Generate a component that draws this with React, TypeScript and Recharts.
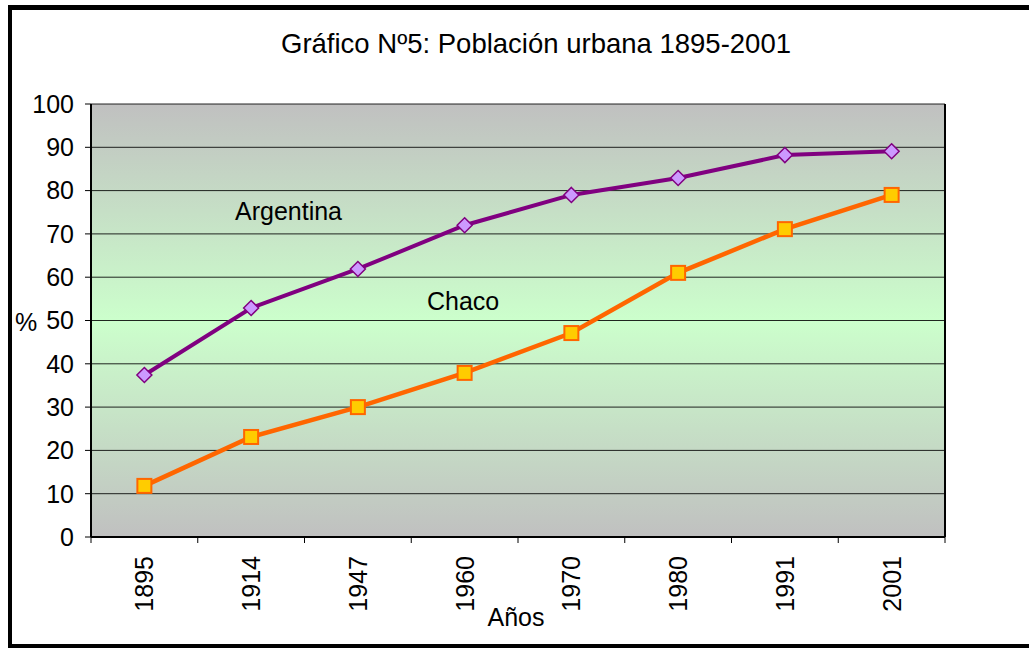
import { LineChart, Line, XAxis, YAxis, CartesianGrid } from "recharts";

const years = ["1895", "1914", "1947", "1960", "1970", "1980", "1991", "2001"];
const argentina = [37.4, 52.9, 61.9, 72, 79, 82.9, 88.2, 89.1];
const chaco = [11.8, 23.1, 30, 37.9, 47.1, 61, 71.1, 79];
const yTicks = [0, 10, 20, 30, 40, 50, 60, 70, 80, 90, 100];

const data = years.map((year, i) => ({
  year,
  argentina: argentina[i],
  chaco: chaco[i],
}));

const FONT = "'Liberation Sans', Arial, sans-serif";
const PLOT_W = 854;
const BAND = PLOT_W / years.length;

// tick label in the middle of each category, tick mark on the category edges
const XTick = (props: any) => {
  const { x, y, payload, index } = props;
  const half = BAND / 2;
  return (
    <g>
      <line x1={x - half} y1={y} x2={x - half} y2={y + 6} stroke="#000" />
      {index === years.length - 1 && (
        <line x1={x + half} y1={y} x2={x + half} y2={y + 6} stroke="#000" />
      )}
      <text
        x={0}
        y={0}
        transform={`translate(${x + 9},${y + 19}) rotate(-90)`}
        textAnchor="end"
        fontSize={25}
        fontFamily={FONT}
        fill="#000"
      >
        {payload.value}
      </text>
    </g>
  );
};

const Diamond = (props: any) => {
  const { cx, cy, index } = props;
  return (
    <polygon
      key={`a${index}`}
      points={`${cx},${cy - 7.5} ${cx + 7.5},${cy} ${cx},${cy + 7.5} ${cx - 7.5},${cy}`}
      fill="#cc99ff"
      stroke="#800080"
      strokeWidth={1.5}
    />
  );
};

const Square = (props: any) => {
  const { cx, cy, index } = props;
  return (
    <rect
      key={`c${index}`}
      x={cx - 7}
      y={cy - 7}
      width={14}
      height={14}
      fill="#ffcc00"
      stroke="#ff6600"
      strokeWidth={2}
    />
  );
};

export default function App() {
  return (
    <div style={{ position: "absolute", left: 0, top: 0, width: 1029, height: 648, background: "#fff" }}>
      <div
        style={{
          position: "absolute",
          left: 8,
          top: 5,
          width: 1021,
          height: 643,
          boxSizing: "border-box",
          borderTop: "5px solid #000",
          borderLeft: "4px solid #000",
          borderBottom: "4px solid #000",
        }}
      />
      <div style={{ position: "absolute", left: 0, top: 0 }}>
        <LineChart
          width={1029}
          height={648}
          data={data}
          margin={{ top: 104, right: 84, bottom: 0, left: 0 }}
        >
          <defs>
            <linearGradient id="plotBg" x1="0" y1="0" x2="0" y2="1">
              <stop offset="0%" stopColor="#c0c0c0" />
              <stop offset="50%" stopColor="#ccffcc" />
              <stop offset="100%" stopColor="#c0c0c0" />
            </linearGradient>
          </defs>
          <CartesianGrid
            vertical={false}
            stroke="#000"
            strokeOpacity={0.85}
            fill="url(#plotBg)"
            fillOpacity={1}
          />
          {/* right edge of the plot area */}
          <CartesianGrid
            horizontal={false}
            stroke="#000"
            strokeWidth={2}
            verticalCoordinatesGenerator={({ offset }: any) => [offset.left + offset.width]}
          />
          <XAxis
            dataKey="year"
            interval={0}
            height={111}
            padding={{ left: BAND / 2, right: BAND / 2 }}
            tickLine={false}
            tickSize={0}
            tickMargin={0}
            tick={<XTick />}
            axisLine={{ stroke: "#000", strokeWidth: 2 }}
          />
          <YAxis
            domain={[0, 100]}
            ticks={yTicks}
            interval={0}
            width={91}
            tickSize={6}
            tickMargin={11}
            tickLine={{ stroke: "#000" }}
            axisLine={{ stroke: "#000", strokeWidth: 2 }}
            tick={{ fill: "#000", fontSize: 25, fontFamily: FONT }}
          />
          <Line
            dataKey="argentina"
            stroke="#800080"
            strokeWidth={4}
            dot={Diamond}
            activeDot={false}
            isAnimationActive={false}
          />
          <Line
            dataKey="chaco"
            stroke="#ff6600"
            strokeWidth={4.5}
            dot={Square}
            activeDot={false}
            isAnimationActive={false}
          />
          <text x={536} y={53} textAnchor="middle" fontSize={27.5} fontFamily={FONT} fill="#000">
            Gráfico Nº5: Población urbana 1895-2001
          </text>
          <text x={15} y={331} fontSize={25} fontFamily={FONT} fill="#000">
            %
          </text>
          <text x={516} y={626} textAnchor="middle" fontSize={25} fontFamily={FONT} fill="#000">
            Años
          </text>
          <text x={235} y={220} fontSize={25} fontFamily={FONT} fill="#000">
            Argentina
          </text>
          <text x={427} y={310} fontSize={25} fontFamily={FONT} fill="#000">
            Chaco
          </text>
        </LineChart>
      </div>
    </div>
  );
}
